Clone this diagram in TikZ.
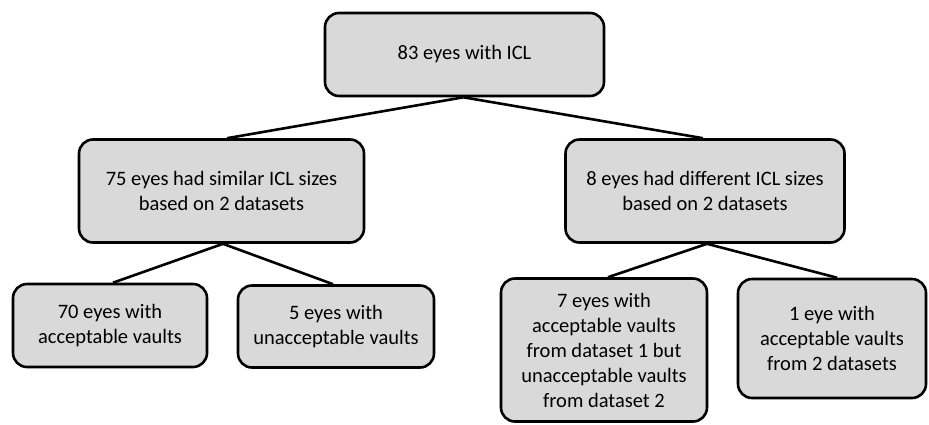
\documentclass[tikz,border=0pt]{standalone}
\usepackage{fontspec}
\setmainfont{Carlito}
\usetikzlibrary{backgrounds}
\definecolor{boxgray}{HTML}{D9D9D9}
\tikzset{
  box/.style={draw=black, fill=boxgray, line width=2.6pt, rounded corners=14pt,
    align=center, inner sep=0pt, font=\fontsize{20.5}{25}\selectfont},
  link/.style={draw=black, line width=2.6pt}
}
\begin{document}
\begin{tikzpicture}[x=1pt,y=-1pt]
\useasboundingbox (0,0) rectangle (929,424);
\node[box, minimum width=279pt, minimum height=83pt] (top) at (464.5,54.5) {83 eyes with ICL};
\node[box, minimum width=285pt, minimum height=103pt] (midL) at (221.5,191) {75 eyes had similar ICL sizes\\based on 2 datasets};
\node[box, minimum width=279pt, minimum height=103pt] (midR) at (705,191) {8 eyes had different ICL sizes\\based on 2 datasets};
\node[box, minimum width=194pt, minimum height=83pt] (b1) at (110,325.5) {70 eyes with\\acceptable vaults};
\node[box, minimum width=196pt, minimum height=82pt] (b2) at (336,326.5) {5 eyes with\\unacceptable vaults};
\node[box, minimum width=206pt, minimum height=143pt] (b3) at (604,350) {7 eyes with\\acceptable vaults\\from dataset 1 but\\unacceptable vaults\\from dataset 2};
\node[box, minimum width=188pt, minimum height=119pt] (b4) at (832,338.5) {1 eye with\\acceptable vaults\\from 2 datasets};
\begin{scope}[on background layer]
\draw[link] ([xshift=-1pt]top.south) -- ([xshift=5.5pt]midL.north);
\draw[link] ([xshift=-1pt]top.south) -- ([xshift=-2pt]midR.north);
\draw[link] ([xshift=1.5pt]midL.south) -- ([xshift=3pt]b1.north);
\draw[link] ([xshift=1.5pt]midL.south) -- ([xshift=-3pt]b2.north);
\draw[link] ([xshift=2pt]midR.south) -- ([xshift=4pt]b3.north);
\draw[link] ([xshift=2pt]midR.south) -- ([xshift=5pt]b4.north);
\end{scope}
\end{tikzpicture}
\end{document}
